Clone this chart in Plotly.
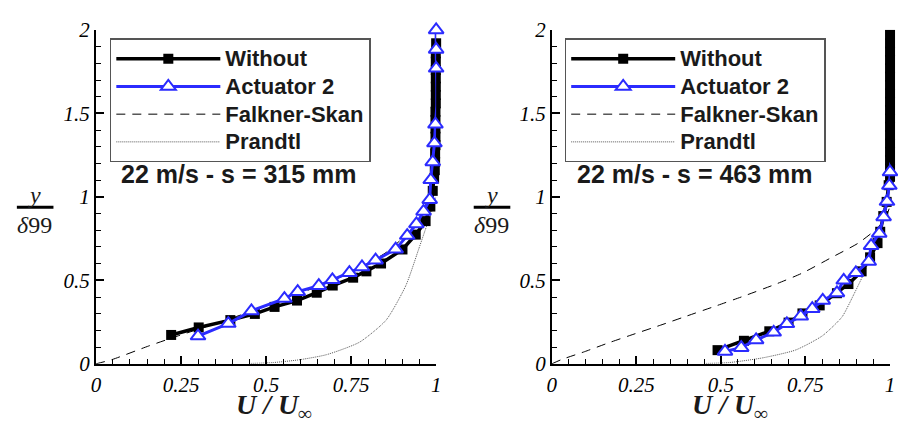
import plotly.graph_objects as go

# ---------------- data ----------------
# Left panel : 22 m/s - s = 315 mm
left_without_x = [0.221, 0.302, 0.395, 0.467, 0.525, 0.591, 0.649, 0.696, 0.756, 0.795, 0.838, 0.901,
                  0.940, 0.969, 0.983, 0.990, 0.994, 0.996, 0.997, 0.997, 0.998, 0.998, 0.998, 0.998,
                  0.998, 0.999, 0.999, 0.999, 0.999, 0.999, 0.999, 0.999, 1.000]
left_without_y = [0.173, 0.218, 0.262, 0.299, 0.341, 0.379, 0.426, 0.469, 0.516, 0.554, 0.601, 0.685,
                  0.774, 0.855, 0.942, 1.036, 1.110, 1.160, 1.210, 1.260, 1.310, 1.360, 1.410, 1.460,
                  1.510, 1.560, 1.610, 1.660, 1.710, 1.760, 1.810, 1.860, 1.920]
left_act_x = [0.300, 0.389, 0.457, 0.554, 0.593, 0.655, 0.695, 0.745, 0.782, 0.822, 0.881, 0.915,
              0.942, 0.963, 0.981, 0.984, 0.990, 0.995, 0.998, 1.002, 1.002, 1.000, 1.000, 1.000]
left_act_y = [0.166, 0.241, 0.317, 0.391, 0.432, 0.468, 0.503, 0.546, 0.580, 0.621, 0.687, 0.768,
              0.838, 0.913, 0.983, 1.102, 1.209, 1.322, 1.435, 1.544, 1.657, 1.770, 1.883, 2.000]
left_fs_x = [0.0, 0.048, 0.155, 0.242, 0.35, 0.45, 0.55, 0.65, 0.75, 0.853, 0.90, 0.95, 0.98, 1.0, 1.0]
left_fs_y = [0.0, 0.026, 0.107, 0.168, 0.240, 0.310, 0.385, 0.462, 0.548, 0.667, 0.750, 0.850, 0.950, 1.060, 2.0]
left_prandtl_x = [0.45, 0.523, 0.60, 0.678, 0.775, 0.853, 0.911, 0.950, 0.969, 0.985, 1.0]
left_prandtl_y = [0.002, 0.008, 0.025, 0.055, 0.130, 0.262, 0.469, 0.695, 0.808, 0.900, 1.0]

# Right panel : 22 m/s - s = 463 mm
right_without_x = [0.490, 0.568, 0.643, 0.700, 0.741, 0.792, 0.843, 0.877, 0.916, 0.941, 0.963, 0.971,
                   0.980, 0.990, 0.996, 1.000, 1.000, 1.000, 1.000, 1.000, 1.000, 1.000, 1.000, 1.000,
                   1.000, 1.000, 1.000, 1.000, 1.000, 1.000, 1.000, 1.000, 1.000]
right_without_y = [0.082, 0.138, 0.195, 0.247, 0.302, 0.350, 0.423, 0.478, 0.554, 0.638, 0.723, 0.791,
                   0.885, 0.970, 1.070, 1.120, 1.170, 1.220, 1.270, 1.320, 1.370, 1.420, 1.470, 1.520,
                   1.570, 1.620, 1.670, 1.720, 1.770, 1.820, 1.870, 1.920, 1.970]
right_act_x = [0.512, 0.560, 0.604, 0.656, 0.695, 0.736, 0.770, 0.801, 0.843, 0.863, 0.899, 0.937,
               0.944, 0.968, 0.981, 0.991, 0.998, 1.000, 1.002]
right_act_y = [0.074, 0.097, 0.143, 0.189, 0.240, 0.285, 0.330, 0.380, 0.425, 0.500, 0.545, 0.613,
               0.708, 0.781, 0.880, 0.972, 1.068, 1.149, 1.205]
right_fs_x = [0.0, 0.029, 0.097, 0.171, 0.234, 0.322, 0.390, 0.487, 0.565, 0.663, 0.741, 0.828,
              0.906, 0.960, 0.985, 1.0, 1.0]
right_fs_y = [0.0, 0.026, 0.073, 0.128, 0.172, 0.232, 0.280, 0.348, 0.404, 0.478, 0.544, 0.638,
              0.723, 0.808, 0.870, 0.950, 2.0]
right_prandtl_x = [0.45, 0.526, 0.624, 0.721, 0.800, 0.858, 0.892, 0.920, 0.950, 0.970, 0.985, 1.0]
right_prandtl_y = [0.002, 0.008, 0.036, 0.083, 0.168, 0.281, 0.412, 0.530, 0.680, 0.800, 0.900, 1.0]

series_names = ["Without", "Actuator 2", "Falkner-Skan", "Prandtl"]
panel_titles = ["22 m/s - s = 315 mm", "22 m/s - s = 463 mm"]
x_ticks = [0, 0.25, 0.5, 0.75, 1]
y_ticks = [0, 0.5, 1, 1.5, 2]

BLUE = "#2b2bff"


def lname(n):
    return '<span style="font-size:22px">' + n + '</span>'


panels = [
    dict(wx=left_without_x, wy=left_without_y, ax=left_act_x, ay=left_act_y,
         fx=left_fs_x, fy=left_fs_y, px=left_prandtl_x, py=left_prandtl_y,
         xa="x", ya="y", legend="legend"),
    dict(wx=right_without_x, wy=right_without_y, ax=right_act_x, ay=right_act_y,
         fx=right_fs_x, fy=right_fs_y, px=right_prandtl_x, py=right_prandtl_y,
         xa="x2", ya="y2", legend="legend2"),
]

fig = go.Figure()
for p in panels:
    fig.add_trace(go.Scatter(x=p["fx"], y=p["fy"], mode="lines", name=lname(series_names[2]),
                             line=dict(color="black", width=1, dash="9px,7px", shape="spline", smoothing=0.6),
                             xaxis=p["xa"], yaxis=p["ya"], legend=p["legend"], legendrank=3,
                             cliponaxis=False))
    fig.add_trace(go.Scatter(x=p["px"], y=p["py"], mode="lines", name=lname(series_names[3]),
                             line=dict(color="#555555", width=1, dash="1px,1px", shape="spline", smoothing=0.6),
                             xaxis=p["xa"], yaxis=p["ya"], legend=p["legend"], legendrank=4,
                             cliponaxis=False))
    fig.add_trace(go.Scatter(x=p["wx"], y=p["wy"], mode="lines+markers", name=lname(series_names[0]),
                             line=dict(color="black", width=3.5),
                             marker=dict(symbol="square", size=10, color="black"),
                             xaxis=p["xa"], yaxis=p["ya"], legend=p["legend"], legendrank=1,
                             cliponaxis=False))
    fig.add_trace(go.Scatter(x=p["ax"], y=p["ay"], mode="lines+markers", name=lname(series_names[1]),
                             line=dict(color=BLUE, width=3),
                             marker=dict(symbol="triangle-up", size=13, color="white",
                                         line=dict(color=BLUE, width=2)),
                             xaxis=p["xa"], yaxis=p["ya"], legend=p["legend"], legendrank=2,
                             cliponaxis=False))

W, H = 898, 423
tickfont = dict(family="Liberation Serif", size=21, style="italic", color="black")
common_x = dict(range=[0, 1], showline=True, linecolor="black", linewidth=2, ticks="inside",
                ticklen=8, tickwidth=1.5, tickcolor="black", tickvals=x_ticks, ticklabelstandoff=1,
                minor=dict(dtick=0.05, tick0=0, ticks="inside", ticklen=5, tickwidth=1, tickcolor="black"),
                showgrid=False, zeroline=False, tickfont=tickfont, fixedrange=True)
common_y = dict(range=[0, 2], showline=True, linecolor="black", linewidth=2, ticks="inside",
                ticklen=8, tickwidth=1.5, tickcolor="black", tickvals=y_ticks,
                minor=dict(dtick=0.1, tick0=0, ticks="inside", ticklen=5, tickwidth=1, tickcolor="black"),
                showgrid=False, zeroline=False, tickfont=tickfont, fixedrange=True)

ydom = [1 - 373 / H, 1 - 19 / H]
fig.update_layout(
    width=W, height=H, margin=dict(l=0, r=0, t=0, b=0),
    paper_bgcolor="white", plot_bgcolor="white",
    xaxis=dict(domain=[92 / W, 436 / W], anchor="y", **common_x),
    yaxis=dict(domain=ydom, anchor="x", **common_y),
    xaxis2=dict(domain=[553 / W, 895 / W], anchor="y2", **common_x),
    yaxis2=dict(domain=ydom, anchor="x2", **common_y),
    showlegend=True,
)
legend_style = dict(xanchor="left", yanchor="top", bgcolor="white", bordercolor="#555555",
                    borderwidth=1.5, itemwidth=104, tracegroupgap=0,
                    font=dict(family="Liberation Sans", size=19, weight="bold", color="#1a1a1a"))
fig.update_layout(legend=dict(x=106 / W, y=1 - 28 / H, **legend_style),
                  legend2=dict(x=566 / W, y=1 - 28 / H, **legend_style))

# panel annotations and axis titles
for i, (xl, xc, ylab) in enumerate([(115, 272, 30), (576, 733, 492)]):
    fig.add_annotation(x=xl / W, y=1 - 172 / H, xref="paper", yref="paper", xanchor="left",
                       yanchor="middle", text=panel_titles[i], showarrow=False,
                       font=dict(family="Liberation Sans", size=25, weight="bold", color="#1a1a1a"))
    fig.add_annotation(x=xc / W, y=-0.038, xref="paper", yref="paper", xanchor="center",
                       yanchor="bottom", text="<b><i>U / U</i></b><sub><b>∞</b></sub>", showarrow=False,
                       font=dict(family="Liberation Serif", size=28, color="#1a1a1a"))
    fig.add_annotation(x=ylab / W, y=1 - 194 / H, xref="paper", yref="paper", xanchor="center",
                       yanchor="middle", text="<i>y</i>", showarrow=False,
                       font=dict(family="Liberation Serif", size=24, color="#1a1a1a"))
    fig.add_annotation(x=ylab / W, y=1 - 226 / H, xref="paper", yref="paper", xanchor="center",
                       yanchor="middle", text="<i>δ</i>99", showarrow=False,
                       font=dict(family="Liberation Serif", size=24, color="#1a1a1a"))
    fig.add_shape(type="line", xref="paper", yref="paper", x0=(ylab - 18) / W, x1=(ylab + 19) / W,
                  y0=1 - 207 / H, y1=1 - 207 / H, line=dict(color="black", width=3))

fig.write_html("out.html")
